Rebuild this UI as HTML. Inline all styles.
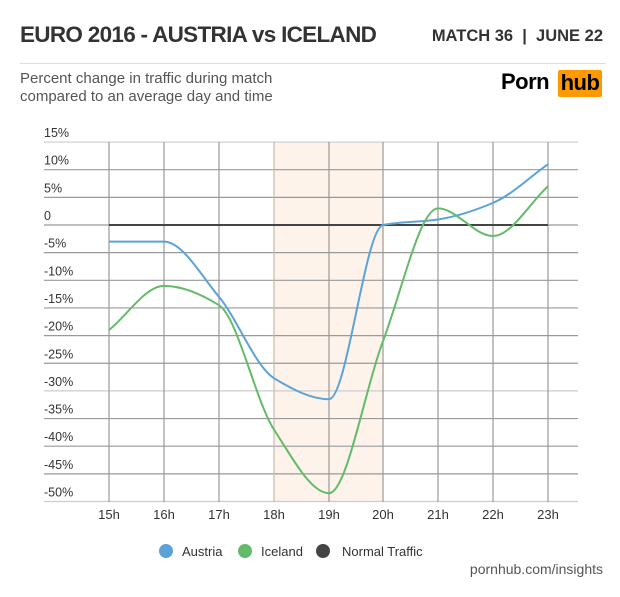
<!DOCTYPE html>
<html><head><meta charset="utf-8"><style>
body{margin:0;width:620px;height:597px;background:#fff;font-family:"Liberation Sans",sans-serif;overflow:hidden;position:relative}
.t{position:absolute;white-space:nowrap}
</style></head><body>
<div class="t" style="left:20px;top:22px;font-size:22.5px;font-weight:bold;color:#333;letter-spacing:-0.7px">EURO 2016 - AUSTRIA vs ICELAND</div>
<div class="t" style="right:17px;top:27px;font-size:16.5px;font-weight:bold;color:#333">MATCH 36 &nbsp;|&nbsp; JUNE 22</div>
<div style="position:absolute;left:20px;top:63px;width:586px;height:1px;background:#ddd"></div>
<div class="t" style="left:20px;top:70px;font-size:15px;color:#555;line-height:18px">Percent change in traffic during match<br>compared to an average day and time</div>
<div class="t" style="left:501px;top:69px;font-size:22px;font-weight:bold;color:#000;letter-spacing:-0.5px">Porn</div>
<div class="t" style="left:558px;top:70px;width:44px;height:27px;background:#f90;border-radius:2px;font-size:22px;font-weight:bold;color:#000;text-align:center;line-height:26px;letter-spacing:-0.5px">hub</div>
<svg width="620" height="597" style="position:absolute;left:0;top:0">
<rect x="274" y="142" width="109" height="360" fill="#fdf3ea"/>
<g id="g"></g>
<circle cx="166" cy="551" r="7" fill="#5ba3d6"/>
<circle cx="245" cy="551" r="7" fill="#63bb6a"/>
<circle cx="323" cy="551" r="7" fill="#444"/>
<text x="182" y="556" font-size="13" fill="#333" font-family="Liberation Sans">Austria</text>
<text x="261" y="556" font-size="13" fill="#333" font-family="Liberation Sans">Iceland</text>
<text x="342" y="556" font-size="13" fill="#333" font-family="Liberation Sans">Normal Traffic</text>
<text x="603" y="574" font-size="14" fill="#555" text-anchor="end" font-family="Liberation Sans">pornhub.com/insights</text>
</svg>
<script>
var s=document.getElementById('g'),h='';
function Y(v){return 225-v*5.53}
var xs=[109,164,219,274,329,383,438,493,548];
for(var v=15;v>=-50;v-=5){var y=Y(v);h+='<line x1="44" x2="578" y1="'+y+'" y2="'+y+'" stroke="'+(v==15||v==-50||v==-30?'#ccc':'#999')+'" stroke-width="1.2"/>';
h+='<text x="44" y="'+(y-5)+'" font-size="12.5" fill="#333" font-family="Liberation Sans">'+(v==0?'0':v+'%')+'</text>';}
xs.forEach(function(x,i){h+='<line x1="'+x+'" x2="'+x+'" y1="142" y2="502" stroke="'+(i==3?'#cbb9aa':'#999')+'" stroke-width="1.2"/>';
h+='<text x="'+x+'" y="519" font-size="13" fill="#333" text-anchor="middle" font-family="Liberation Sans">'+(15+i)+'h</text>';});
h+='<line x1="109" x2="548" y1="225" y2="225" stroke="#444" stroke-width="2"/>';
function path(vals){var p=vals.map(function(v,i){return [xs[i],Y(v)]});var n=p.length,m=[],d=[];
for(var i=0;i<n-1;i++)d.push((p[i+1][1]-p[i][1])/(p[i+1][0]-p[i][0]));
for(i=0;i<n;i++){if(i==0)m.push(d[0]);else if(i==n-1)m.push(d[n-2]);else m.push(d[i-1]*d[i]<=0?0:2/(1/d[i-1]+1/d[i]));}
var r='M'+p[0][0]+','+p[0][1];for(i=0;i<n-1;i++){var dx=(p[i+1][0]-p[i][0])/3;
r+=' C'+(p[i][0]+dx)+','+(p[i][1]+m[i]*dx)+' '+(p[i+1][0]-dx)+','+(p[i+1][1]-m[i+1]*dx)+' '+p[i+1][0]+','+p[i+1][1];}return r;}
h+='<path d="'+path([-3,-3,-13,-27.7,-31.5,0,1,4,11])+'" fill="none" stroke="#5ba3d6" stroke-width="2"/>';
h+='<path d="'+path([-19,-11,-14.5,-37,-48.5,-21,3,-2,7])+'" fill="none" stroke="#63bb6a" stroke-width="2"/>';
s.innerHTML=h;
</script>
</body></html>
